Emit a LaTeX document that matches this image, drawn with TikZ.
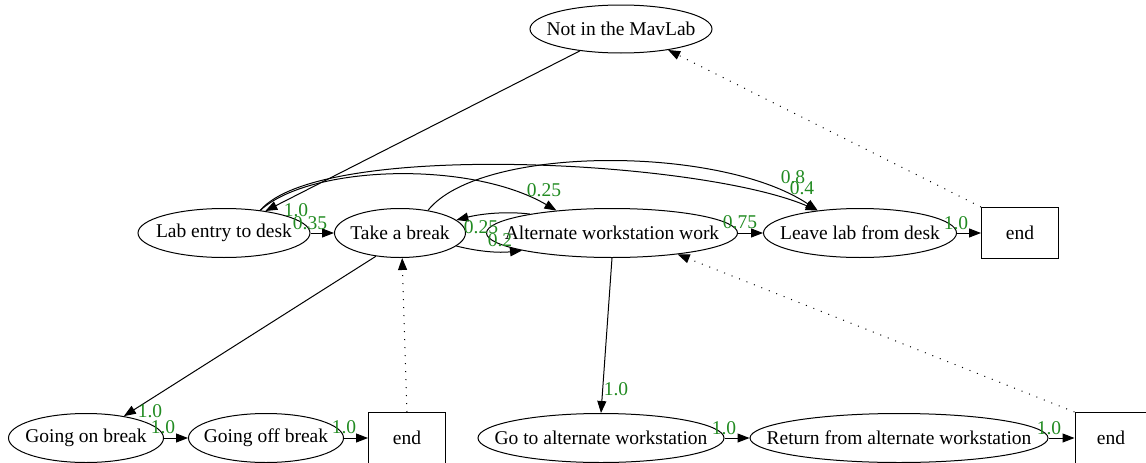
\documentclass[tikz,border=0pt]{standalone}
\usepackage{fontspec}
\setmainfont{Liberation Serif}
\usetikzlibrary{shapes.geometric,arrows.meta}
\definecolor{lblgreen}{RGB}{34,139,34}
\newcommand{\zb}[1]{\makebox[0pt]{#1}}
\begin{document}
\begin{tikzpicture}[x=1pt,y=-1pt,
  every node/.style={font=\fontsize{19.5}{22}\selectfont},
  st/.style={ellipse,draw,line width=1pt,inner sep=0pt,minimum height=49pt},
  endbox/.style={rectangle,draw,line width=1pt,inner sep=0pt,minimum width=77pt,minimum height=51pt},
  edge/.style={draw,line width=1pt,-{Triangle[length=12pt,width=9pt]}},
  dotedge/.style={draw,line width=1pt,dash pattern=on 1pt off 7pt,-{Triangle[length=12pt,width=9pt]}},
  lbl/.style={text=lblgreen,inner sep=0pt}]
\useasboundingbox (0,0) rectangle (1146,463);
% states
\node[st,minimum width=182pt,minimum height=48pt] (not) at (621,29) {\zb{Not in the MavLab}};
\node[st,minimum width=172pt] (lab) at (224,233) {\zb{Lab entry to desk}};
\node[st,minimum width=131pt] (take) at (400,233) {\zb{Take a break}};
\node[st,minimum width=251pt] (alt) at (612,233) {\zb{Alternate workstation work}};
\node[st,minimum width=193pt] (leave) at (860,233) {\zb{Leave lab from desk}};
\node[endbox] (end1) at (1020,233) {end};
\node[st,minimum width=155pt] (goon) at (86,438) {\zb{Going on break}};
\node[st,minimum width=155pt] (gooff) at (266,438) {\zb{Going off break}};
\node[endbox] (end2) at (407,438) {end};
\node[st,minimum width=246pt] (goalt) at (601,438) {\zb{Go to alternate workstation}};
\node[st,minimum width=298pt] (ret) at (899,438) {\zb{Return from alternate workstation}};
\node[endbox,minimum width=72pt] (end3) at (1111,438) {end};
% edges
\draw[edge] (not.208) -- (lab.28);
\draw[edge] (lab.east) -- (take.west);
\draw[edge] (lab.32) .. controls (310,165) and (470,160) .. (alt.158);
\draw[edge] (lab.32) .. controls (320,140) and (700,160) .. (leave.152);
\draw[edge] (take.39) .. controls (480,145) and (720,145) .. (leave.152);
\draw[edge] (alt.167) .. controls (505,211) and (480,214) .. (take.13);
\draw[edge] (take.347) .. controls (480,252) and (500,253) .. (alt.191);
\draw[edge] (alt.east) -- (leave.west);
\draw[edge] (leave.east) -- (end1.west);
\draw[edge] (alt.south) -- (goalt.north);
\draw[edge] (take.224) -- (goon.30);
\draw[edge] (goon.east) -- (gooff.west);
\draw[edge] (gooff.east) -- (end2.west);
\draw[edge] (goalt.east) -- (ret.west);
\draw[edge] (ret.east) -- (end3.west);
% dotted return edges
\draw[dotedge] (end2.north) -- (take.275);
\draw[dotedge] (end3.north west) -- (alt.342);
\draw[dotedge] (end1.north west) -- (not.336);
% labels
\node[lbl] (l1) at (296,210) {1.0};
\node[lbl] (l2) at (310,223) {0.35};
\node[lbl] (l3) at (544,190) {0.25};
\node[lbl] (l4) at (793,177) {0.8};
\node[lbl] (l5) at (802,188) {0.4};
\node[lbl] (l6) at (481,227) {0.25};
\node[lbl] (l7) at (500,240) {0.2};
\node[lbl] (l8) at (740,222) {0.75};
\node[lbl] (l9) at (956,223) {1.0};
\node[lbl] (l10) at (616,389) {1.0};
\node[lbl] (l11) at (150,411) {1.0};
\node[lbl] (l12) at (163,427) {1.0};
\node[lbl] (l13) at (344,427) {1.0};
\node[lbl] (l14) at (724,428) {1.0};
\node[lbl] (l15) at (1049,428) {1.0};
\end{tikzpicture}
\end{document}
